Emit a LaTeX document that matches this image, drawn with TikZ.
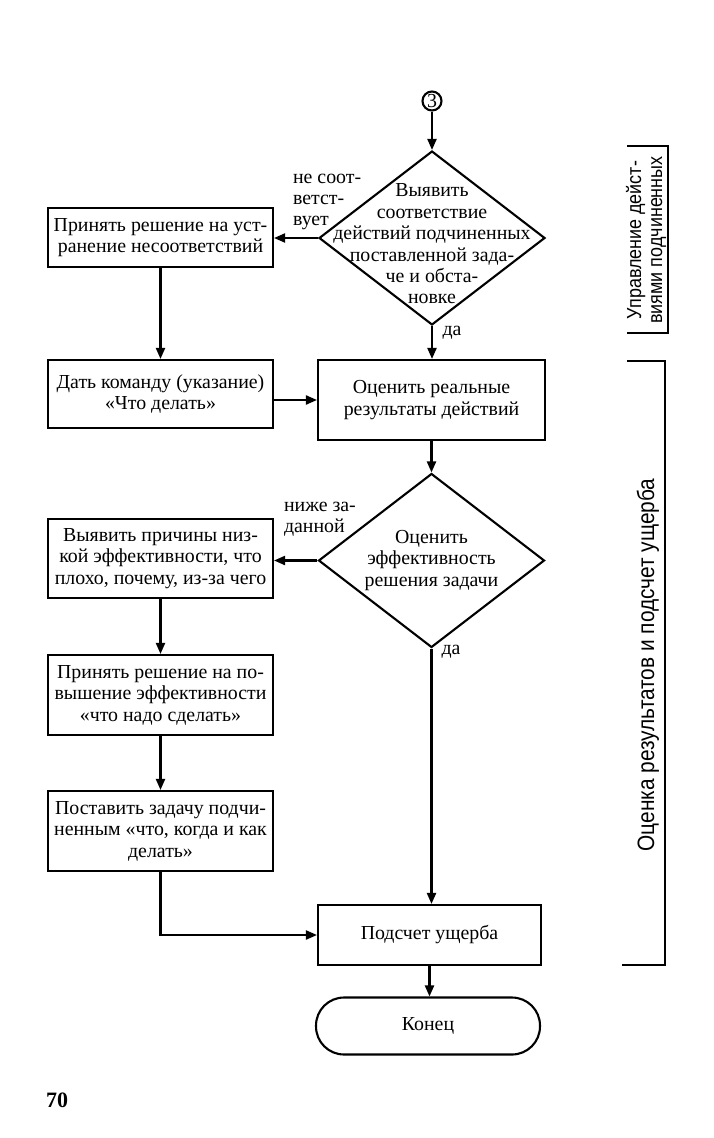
\documentclass[tikz,border=0pt]{standalone}
\usepackage{fontspec}
\setmainfont{Liberation Serif}
\newfontfamily\narrowfont[FakeStretch=0.88]{Liberation Sans}
\usetikzlibrary{arrows.meta,shapes.geometric}
\tikzset{box/.style={draw,rectangle,minimum width=4.5cm,align=center,inner sep=1pt},
	decision/.style={draw,diamond,minimum width=4.52cm,minimum height=3.48cm,inner sep=0pt},
	arr/.style={-{Triangle[length=2.2mm,width=1.8mm]}},
	note/.style={inner sep=0pt,align=left}}

\begin{document}
\begin{tikzpicture}[x=0.02cm, y=-0.02cm, line width=1.2pt, font=\fontsize{11.3}{12.2}\selectfont]
	\useasboundingbox (0,0) rectangle (713,1138);

	\node [draw,circle,minimum size=0.38cm,inner sep=0pt] (c3) at (432,101) {3};
	\node [decision,label={[align=center,inner sep=0pt,yshift=-0.12cm]center:{Выявить\\соответствие\\действий подчиненных\\поставленной зада-\\че и обста-\\новке}}] (d1) at (432,238) {};
	\node [box,minimum height=1.18cm] (b1) at (160.5,237.5) {Принять решение на уст-\\ранение несоответствий};
	\node [box,minimum height=1.36cm] (b2) at (160.5,394) {Дать команду (указание)\\«Что делать»};
	\node [box,minimum width=4.54cm,minimum height=1.6cm] (b3) at (431.5,400) {Оценить реальные\\результаты действий};
	\node [decision,label={[align=center,inner sep=0pt]center:{Оценить\\эффективность\\решения задачи}}] (d2) at (431.5,560.5) {};
	\node [box,minimum height=1.58cm] (b4) at (160.5,558.5) {Выявить причины низ-\\кой эффективности, что\\плохо, почему, из-за чего};
	\node [box,minimum height=1.6cm] (b5) at (160.5,695) {Принять решение на по-\\вышение эффективности\\«что надо сделать»};
	\node [box,minimum height=1.6cm] (b6) at (160.5,831) {Поставить задачу подчи-\\ненным «что, когда и как\\делать»};
	\node [box,minimum width=4.46cm,minimum height=1.2cm] (b7) at (429.5,935) {Подсчет ущерба};
	\node [draw,rectangle,rounded corners=0.56cm,minimum width=4.48cm,minimum height=1.14cm] (stop) at (428,1026) {Конец};

	\node [note,anchor=west] (n1) at (292,202) {не соот-\\ветст-\\вует};
	\node [note] (y1) at (452,333) {да};
	\node [note,anchor=west] (n2) at (283,519) {ниже за-\\данной};
	\node [note] (y2) at (451,652) {да};

	\draw [arr] (c3) -- (d1.north);
	\draw [arr] (d1.west) -- (b1.east |- d1.west);
	\draw [arr] (d1.south) -- (d1.south |- b3.north);
	\draw [arr] (b1) -- (b2);
	\draw [arr] (b2.east |- b3.west) -- (b3.west);
	\draw [arr] (b3) -- (d2);
	\draw [arr] (d2.west) -- (b4.east |- d2.west);
	\draw [arr] (d2.south) -- (d2.south |- b7.north);
	\foreach \a/\b in {b4/b5, b5/b6} \draw [arr] (\a) -- (\b);
	\draw [arr] (b6.south) |- (b7.west);
	\draw [arr] (b7.south) -- (b7.south |- stop.north);

	\draw (627,146) -- (668,146) -- (668,333) -- (627,333);
	\draw (627,361) -- (665,361) -- (665,965) -- (622,965);
	\node [rotate=90,align=center,inner sep=0pt,font=\narrowfont\fontsize{11.6}{12}\selectfont] (g1) at (646,240) {Управление дейст-\\виями подчиненных};
	\node [rotate=90,inner sep=0pt,font=\narrowfont\fontsize{13.5}{13.5}\selectfont] (g2) at (648,665) {Оценка результатов и подсчет ущерба};

	\node [inner sep=0pt,font=\bfseries\fontsize{12.5}{12.5}\selectfont] (pg) at (57,1100) {70};
\end{tikzpicture}
\end{document}
